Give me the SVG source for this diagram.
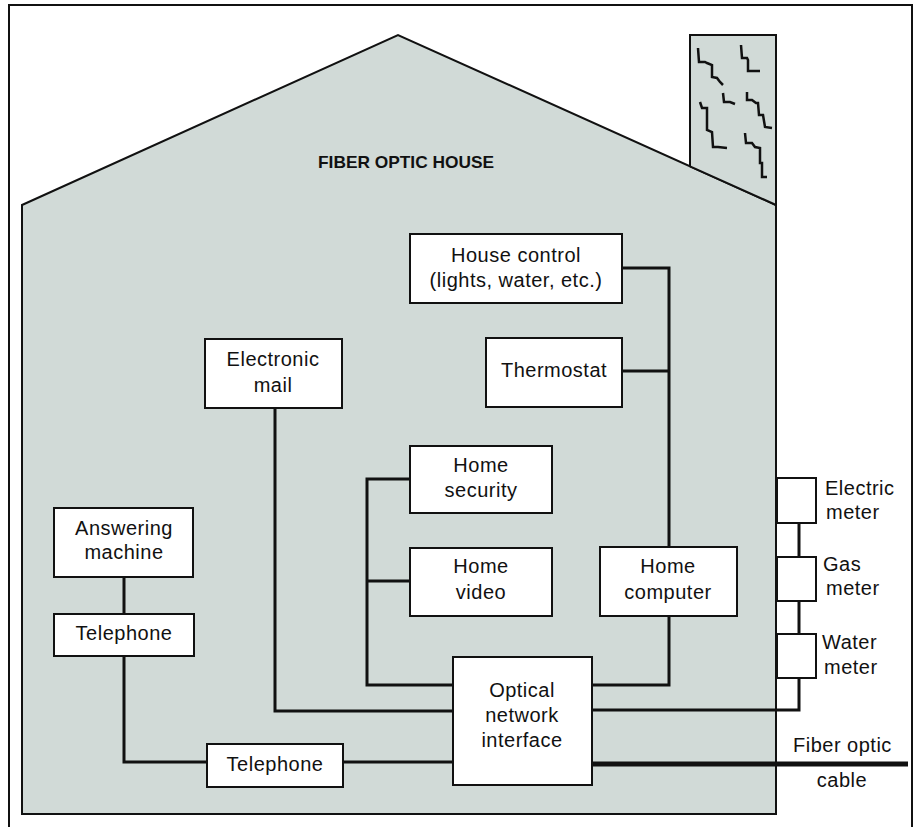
<svg xmlns="http://www.w3.org/2000/svg" width="917" height="827" viewBox="0 0 917 827">
<style>
.box{fill:#ffffff;stroke:#111;stroke-width:2}
.lbl{font-family:"Liberation Sans",Arial,sans-serif;font-size:20px;letter-spacing:0.5px;fill:#111;text-anchor:middle}
.lft{text-anchor:start}
.wire{fill:none;stroke:#111;stroke-width:3}
.brick{fill:none;stroke:#111;stroke-width:2.5;stroke-linejoin:miter}
</style>
<rect x="0" y="0" width="917" height="827" fill="#ffffff"/>
<path d="M9,827 V5 H912 V827" fill="none" stroke="#111" stroke-width="2"/>
<g id="house">
<polygon points="22,205 398,35 776,205 776,814 22,814" fill="#d1dad7" stroke="#111" stroke-width="2"/>
<path d="M690,166 V35 H776 V205 Z" fill="#d1dad7" stroke="none"/>
<path d="M690,166 V35 H776 V205" fill="none" stroke="#111" stroke-width="2"/>
<line x1="690" y1="166.3" x2="776" y2="205" stroke="#111" stroke-width="2"/>
<g id="bricks">
<polyline class="brick" points="698,48 699,62 705,62 707,63 712,65 712,77 717,78 720,82 723,85"/>
<polyline class="brick" points="741,45 742,58 747,58 748,60 748,71 760,71"/>
<polyline class="brick" points="723,93 724,102 730,102 735,104"/>
<polyline class="brick" points="700,102 702,108 707,108 707,130 712,132 713,147 718,147 727,148"/>
<polyline class="brick" points="747,92 747,100 752,100 756,103 758,103 759,115 763,115 765,127 772,128"/>
<polyline class="brick" points="745,133 746,143 752,143 755,147 760,148 760,163 762,163 762,177 767,177"/>
</g>
<text x="406" y="168" font-family="'Liberation Sans Narrow','Liberation Sans',Arial,sans-serif" font-size="17" font-weight="bold" text-anchor="middle" fill="#111" textLength="176" lengthAdjust="spacingAndGlyphs">FIBER OPTIC HOUSE</text>
</g>
<g id="connectors">
<polyline class="wire" points="622,268 669,268 669,547"/>
<line class="wire" x1="622" y1="371" x2="669" y2="371"/>
<polyline class="wire" points="669,616 669,685 592,685"/>
<polyline class="wire" points="275,408 275,711 453,711"/>
<polyline class="wire" points="410,479 367,479 367,685 453,685"/>
<line class="wire" x1="367" y1="581" x2="410" y2="581"/>
<line class="wire" x1="124" y1="577" x2="124" y2="614"/>
<polyline class="wire" points="124,656 124,762 207,762"/>
<line class="wire" x1="343" y1="762" x2="453" y2="762"/>
<polyline class="wire" points="592,710 799,710 799,678"/>
<line class="wire" x1="799" y1="523" x2="799" y2="557"/>
<line class="wire" x1="799" y1="601" x2="799" y2="634"/>
<line x1="592" y1="764" x2="908" y2="764" stroke="#111" stroke-width="5"/>
</g>
<g id="house-control"><rect class="box" x="410" y="234" width="212" height="69"/><text class="lbl" x="516" y="262">House control</text><text class="lbl" x="516" y="287">(lights, water, etc.)</text></g>
<g id="thermostat"><rect class="box" x="486" y="338" width="136" height="69"/><text class="lbl" x="554" y="377">Thermostat</text></g>
<g id="electronic-mail"><rect class="box" x="205" y="339" width="137" height="69"/><text class="lbl" x="273" y="366">Electronic</text><text class="lbl" x="273" y="392">mail</text></g>
<g id="home-security"><rect class="box" x="410" y="446" width="142" height="67"/><text class="lbl" x="481" y="472">Home</text><text class="lbl" x="481" y="497">security</text></g>
<g id="home-video"><rect class="box" x="410" y="548" width="142" height="68"/><text class="lbl" x="481" y="573">Home</text><text class="lbl" x="481" y="599">video</text></g>
<g id="home-computer"><rect class="box" x="600" y="547" width="137" height="69"/><text class="lbl" x="668" y="573">Home</text><text class="lbl" x="668" y="599">computer</text></g>
<g id="answering-machine"><rect class="box" x="54" y="508" width="139" height="69"/><text class="lbl" x="124" y="535">Answering</text><text class="lbl" x="124" y="559">machine</text></g>
<g id="telephone-1"><rect class="box" x="54" y="614" width="140" height="42"/><text class="lbl" x="124" y="640">Telephone</text></g>
<g id="telephone-2"><rect class="box" x="207" y="744" width="136" height="43"/><text class="lbl" x="275" y="771">Telephone</text></g>
<g id="optical-network-interface"><rect class="box" x="453" y="657" width="139" height="128"/><text class="lbl" x="522" y="697">Optical</text><text class="lbl" x="522" y="722">network</text><text class="lbl" x="522" y="747">interface</text></g>
<g id="electric-meter"><rect class="box" x="777" y="478" width="39" height="45"/><text class="lbl lft" x="825" y="495">Electric</text><text class="lbl lft" x="826" y="519">meter</text></g>
<g id="gas-meter"><rect class="box" x="777" y="557" width="39" height="44"/><text class="lbl lft" x="823" y="571">Gas</text><text class="lbl lft" x="826" y="595">meter</text></g>
<g id="water-meter"><rect class="box" x="777" y="634" width="39" height="44"/><text class="lbl lft" x="822" y="649">Water</text><text class="lbl lft" x="824" y="674">meter</text></g>
<g id="fiber-optic-cable"><text class="lbl lft" x="793" y="752">Fiber optic</text><text class="lbl" x="842" y="787">cable</text></g>
</svg>
